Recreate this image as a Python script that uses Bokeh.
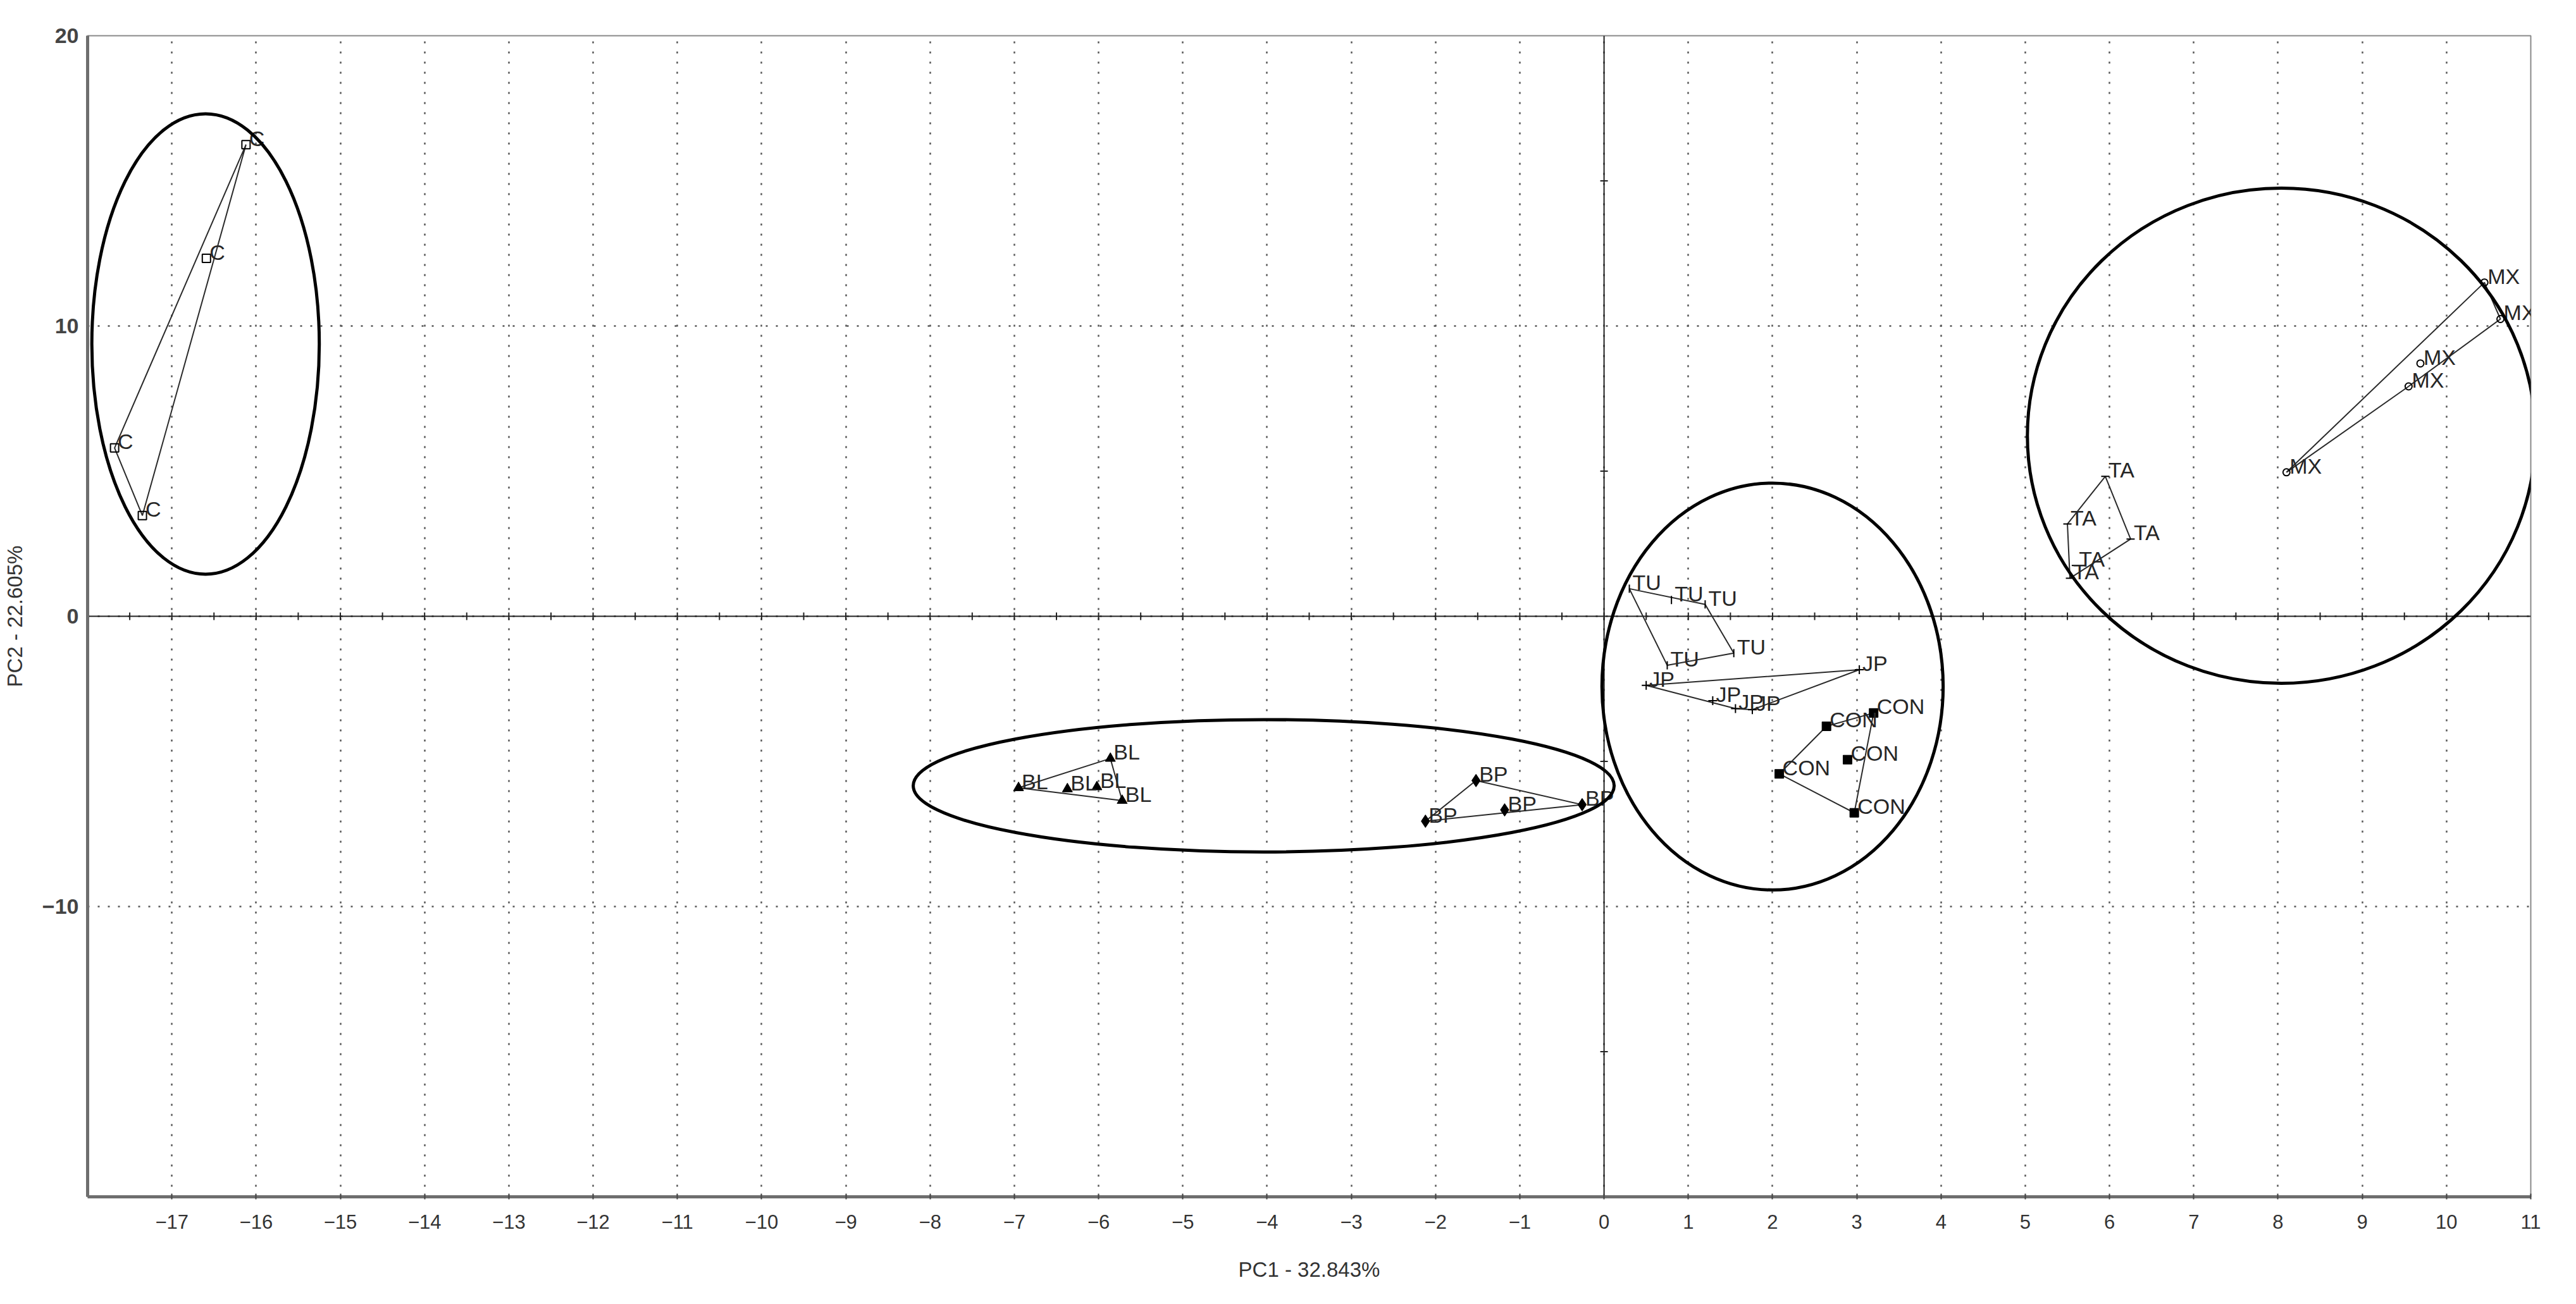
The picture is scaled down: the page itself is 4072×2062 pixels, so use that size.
import numpy as np
from bokeh.plotting import figure
from bokeh.models import FixedTicker, Range1d, ColumnDataSource
from bokeh.core.properties import value
from bokeh.embed import file_html
from bokeh.resources import INLINE

# ---------------- data ----------------
C_x = [-16.12, -16.59, -17.68, -17.35]
C_y = [16.25, 12.33, 5.80, 3.47]

BL_x = [-6.95, -6.37, -6.02, -5.86, -5.72]
BL_y = [-5.91, -5.95, -5.88, -4.90, -6.35]

BP_x = [-1.52, -1.18, -0.26, -2.12]
BP_y = [-5.66, -6.67, -6.49, -7.06]

TU_x = [0.30, 0.80, 1.20, 1.54, 0.75]
TU_y = [0.95, 0.56, 0.41, -1.27, -1.69]

JP_x = [0.50, 3.03, 1.29, 1.56, 1.76]
JP_y = [-2.38, -1.84, -2.91, -3.18, -3.22]

CON_x = [2.08, 2.64, 3.20, 2.89, 2.97]
CON_y = [-5.43, -3.79, -3.33, -4.94, -6.77]

TA_x = [5.95, 5.50, 6.25, 5.53, 5.60]
TA_y = [4.82, 3.18, 2.66, 1.31, 1.75]

MX_x = [8.10, 9.55, 9.69, 10.45, 10.64]
MX_y = [4.96, 7.92, 8.71, 11.50, 10.24]

# grouping ellipses: centre x, centre y, width, height (data units)
ell_x = [-16.60, -4.04, 2.00, 8.04]
ell_y = [9.38, -5.84, -2.42, 6.22]
ell_w = [2.70, 8.32, 4.05, 6.03]
ell_h = [15.86, 4.56, 14.03, 17.06]

x_ticks = list(range(-17, 12))
y_ticks = [-10, 0, 10, 20]
x_title = "PC1 - 32.843%"
y_title = "PC2 - 22.605%"

FONT = "Liberation Sans"


def hull(xs, ys):
    pts = sorted(set(zip(xs, ys)))
    if len(pts) < 3:
        return [p[0] for p in pts], [p[1] for p in pts]

    def cross(o, a, b):
        return (a[0] - o[0]) * (b[1] - o[1]) - (a[1] - o[1]) * (b[0] - o[0])

    lower = []
    for pt in pts:
        while len(lower) >= 2 and cross(lower[-2], lower[-1], pt) <= 0:
            lower.pop()
        lower.append(pt)
    upper = []
    for pt in reversed(pts):
        while len(upper) >= 2 and cross(upper[-2], upper[-1], pt) <= 0:
            upper.pop()
        upper.append(pt)
    h = lower[:-1] + upper[:-1]
    return [q[0] for q in h], [q[1] for q in h]


p = figure(width=4056, height=2046,
           x_range=Range1d(-18, 11), y_range=Range1d(-20, 20),
           output_backend="svg", toolbar_location=None,
           min_border_left=138, min_border_right=56,
           min_border_top=56, min_border_bottom=154,
           background_fill_color="white", border_fill_color="white")

p.outline_line_color = "#8a8a8a"
p.outline_line_width = 2

# axes
p.xaxis.ticker = FixedTicker(ticks=x_ticks)
p.yaxis.ticker = FixedTicker(ticks=y_ticks)
p.xaxis.minor_tick_line_color = None
p.yaxis.minor_tick_line_color = None
for ax in (p.xaxis[0], p.yaxis[0]):
    ax.axis_line_color = "#6e6e6e"
    ax.axis_line_width = 5
    ax.axis_label_text_font = FONT
    ax.axis_label_text_font_style = "normal"
    ax.axis_label_text_color = "#333333"
    ax.major_label_text_font = FONT

p.xaxis.major_tick_in = 5
p.xaxis.major_tick_out = 4
p.xaxis.major_tick_line_color = "#444444"
p.xaxis.major_tick_line_width = 2
p.xaxis.major_label_text_font_size = "31px"
p.xaxis.major_label_text_color = "#333333"
p.xaxis.major_label_standoff = 24
p.xaxis.axis_label = x_title
p.xaxis.axis_label_text_font_size = "33px"
p.xaxis.axis_label_standoff = 43

p.yaxis.major_tick_in = 0
p.yaxis.major_tick_out = 0
p.yaxis.major_label_text_font_size = "34px"
p.yaxis.major_label_text_font_style = "bold"
p.yaxis.major_label_text_color = "#444444"
p.yaxis.major_label_standoff = 14
p.yaxis.axis_label = y_title
p.yaxis.axis_label_text_font_size = "33px"
p.yaxis.axis_label_standoff = 22

# dotted grid
p.xgrid.grid_line_color = "#555555"
p.xgrid.grid_line_width = 2.5
p.xgrid.grid_line_dash = "3 13"
p.ygrid.grid_line_color = "#555555"
p.ygrid.grid_line_width = 2.5
p.ygrid.grid_line_dash = "3 13"

# central axes (x=0, y=0) with their little tick marks
p.segment(x0=[-18], y0=[0], x1=[11], y1=[0], line_color="#222222", line_width=2)
p.segment(x0=[0], y0=[-20], x1=[0], y1=[20], line_color="#222222", line_width=2)
h_ticks = np.arange(-17.5, 11.0, 0.5)
v_ticks = [-15, -5, 5, 15]
p.dash(x=h_ticks, y=np.zeros_like(h_ticks), size=12, angle=np.pi / 2,
       line_color="#222222", line_width=2)
p.dash(x=np.zeros(len(v_ticks)), y=v_ticks, size=12,
       line_color="#222222", line_width=2)

groups = [
    ("C", C_x, C_y, "square", dict(size=13, fill_color=None, line_width=2), 0),
    ("BL", BL_x, BL_y, "triangle", dict(size=16, fill_color="black", line_width=1), 0),
    ("BP", BP_x, BP_y, "diamond", dict(size=20, fill_color="black", line_width=1), 0),
    ("TU", TU_x, TU_y, "dash", dict(size=13, line_width=2), np.pi / 2),
    ("JP", JP_x, JP_y, "cross", dict(size=14, line_width=2), 0),
    ("CON", CON_x, CON_y, "square", dict(size=14, fill_color="black", line_width=1), 0),
    ("TA", TA_x, TA_y, "dash", dict(size=13, line_width=2), 0),
    ("MX", MX_x, MX_y, "circle", dict(size=11, fill_color=None, line_width=2), 0),
]

for name, xs, ys, marker, kw, ang in groups:
    hx, hy = hull(xs, ys)
    p.patch(hx, hy, fill_color=None, line_color="#2a2a2a", line_width=2)

for name, xs, ys, marker, kw, ang in groups:
    src = ColumnDataSource(dict(x=xs, y=ys, t=[name] * len(xs)))
    p.scatter("x", "y", source=src, marker=marker, angle=ang,
              line_color="black", **kw)
    p.text("x", "y", text="t", source=src, x_offset=5, y_offset=-10,
           text_font=value(FONT), text_font_size="34px", text_color="#262626",
           text_align="left", text_baseline="alphabetic")

p.ellipse(x=ell_x, y=ell_y, width=ell_w, height=ell_h,
          fill_color=None, line_color="black", line_width=5)

open("out.html", "w").write(file_html(p, INLINE))
